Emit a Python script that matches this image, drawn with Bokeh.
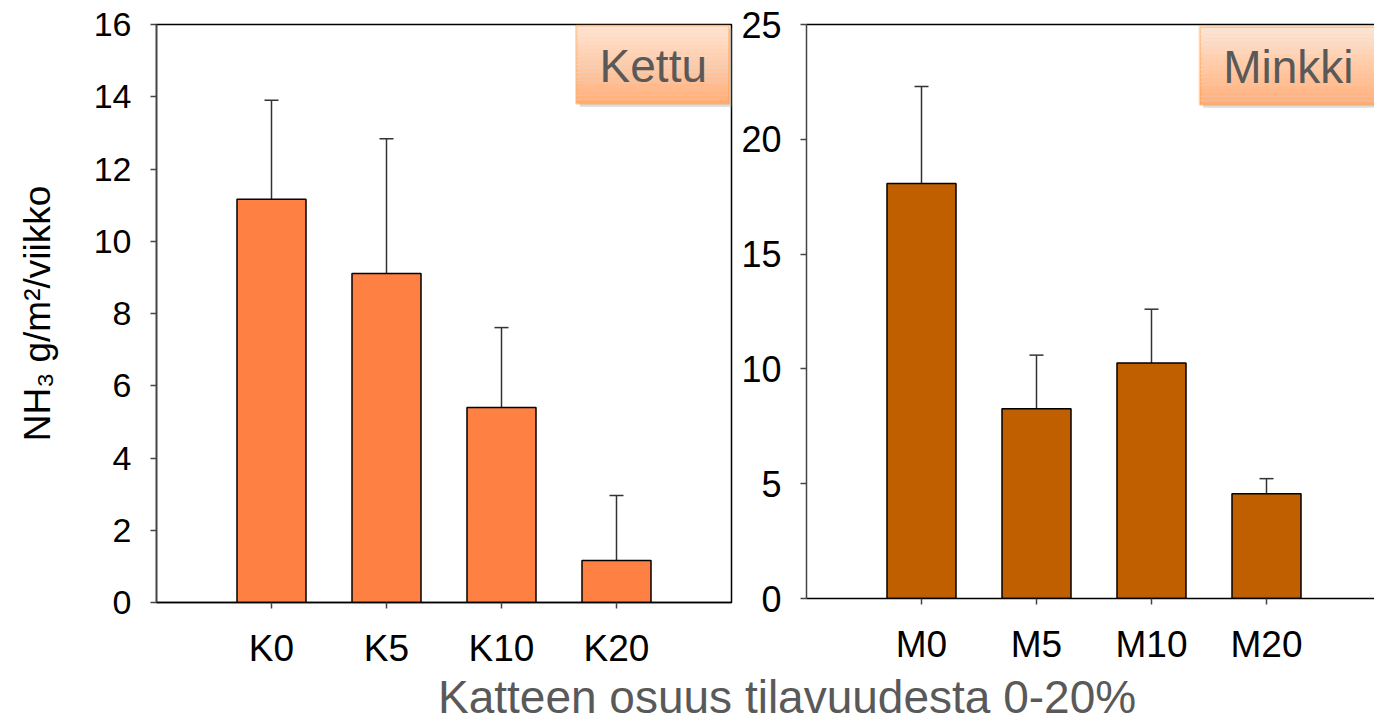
from bokeh.plotting import figure
from bokeh.models import (ColumnDataSource, Whisker, TeeHead, FixedTicker, Range1d,
                          LinearAxis, BoxAnnotation, Label, Div)
from bokeh.layouts import row, column
from bokeh.embed import file_html
from bokeh.resources import INLINE

# ---- data ----
kettu_cats = ["K0", "K5", "K10", "K20"]
kettu_vals = [11.16, 9.11, 5.40, 1.16]
kettu_err = [2.74, 3.73, 2.21, 1.80]

minkki_cats = ["M0", "M5", "M10", "M20"]
minkki_vals = [18.08, 8.26, 10.26, 4.56]
minkki_err = [4.22, 2.34, 2.34, 0.66]

kettu_yticks = [0, 2, 4, 6, 8, 10, 12, 14, 16]
minkki_yticks = [0, 5, 10, 15, 20, 25]

y_label = "NH\u2083 g/m\u00b2/viikko"
x_title = "Katteen osuus tilavuudesta 0-20%"
kettu_name = "Kettu"
minkki_name = "Minkki"

FONT = "Liberation Sans"


def badge(p, x0, x1, y0, y1, sx, sy, text, tx, ty):
    # shadow
    p.add_layout(BoxAnnotation(left=x0 + sx, right=x1 + sx, bottom=y0 - sy, top=y1 - sy,
                               fill_color="#b0b0b0", fill_alpha=0.45, line_color=None, level="annotation"))
    n = 20
    c0 = (255, 228, 210)
    c1 = (255, 176, 124)
    for i in range(n):
        t = i / (n - 1)
        col = "#%02x%02x%02x" % tuple(int(round(a + (b - a) * t)) for a, b in zip(c0, c1))
        top = y1 - (y1 - y0) * i / n
        bot = y1 - (y1 - y0) * (i + 1) / n
        p.add_layout(BoxAnnotation(left=x0, right=x1, bottom=bot, top=top,
                                   fill_color=col, fill_alpha=1.0, line_color=None, level="annotation"))
    p.add_layout(BoxAnnotation(left=x0, right=x1, bottom=y0, top=y1, fill_color=None, fill_alpha=0,
                               line_color="#FF8A1F", line_width=2.5, level="annotation"))
    p.add_layout(Label(x=tx, y=ty, text=text, text_font=FONT, text_font_size="46px",
                       text_color="#595959", text_align="center", text_baseline="middle",
                       level="annotation"))


def make_panel(cats, vals, errs, yticks, color, width, height, bl, br, bt, bb, xend, yfs):
    pos = [i + 1 for i in range(len(cats))]
    src = ColumnDataSource(dict(x=pos, v=vals, up=[v + e for v, e in zip(vals, errs)]))
    p = figure(width=width, height=height, x_range=Range1d(0, xend),
               y_range=Range1d(yticks[0], yticks[-1]),
               output_backend="svg", toolbar_location=None,
               min_border_left=bl, min_border_right=br, min_border_top=bt, min_border_bottom=bb)
    p.background_fill_color = "white"
    p.border_fill_color = "white"
    p.xgrid.grid_line_color = None
    p.ygrid.grid_line_color = None

    p.vbar(x="x", top="v", width=0.6, bottom=0, source=src, fill_color=color,
           line_color="black", line_width=1.5)
    w = Whisker(base="x", lower="v", upper="up", source=src, dimension="height",
                line_color="#333333", line_width=1.5,
                upper_head=TeeHead(size=14, line_color="#333333", line_width=1.5),
                lower_head=None)
    p.add_layout(w)

    p.xaxis.ticker = FixedTicker(ticks=pos)
    p.xaxis.major_label_overrides = {k: c for k, c in zip(pos, cats)}
    p.xaxis.minor_tick_line_color = None
    p.xaxis.major_tick_in = 0
    p.xaxis.major_tick_out = 6
    p.xaxis.major_label_standoff = 19
    p.xaxis.major_label_text_font = FONT
    p.xaxis.major_label_text_font_size = "37px"
    p.xaxis.major_label_text_color = "black"
    p.xaxis.axis_line_color = "black"
    p.xaxis.axis_line_width = 1.5
    p.xaxis.major_tick_line_color = "#444444"
    p.xaxis.major_tick_line_width = 1.5

    p.yaxis.ticker = FixedTicker(ticks=yticks)
    p.yaxis.minor_tick_line_color = None
    p.yaxis.major_tick_in = 0
    p.yaxis.major_tick_out = 6
    p.yaxis.major_label_standoff = 19
    p.yaxis.major_label_text_font = FONT
    p.yaxis.major_label_text_font_size = yfs
    p.yaxis.major_label_text_color = "black"
    p.yaxis.axis_line_color = "#444444"
    p.yaxis.axis_line_width = 1.5
    p.yaxis.major_tick_line_color = "#444444"
    p.yaxis.major_tick_line_width = 1.5
    return p


# left panel: frame x 156..731, y 24..602
p1 = make_panel(kettu_cats, kettu_vals, kettu_err, kettu_yticks, "#FE8042",
                width=735, height=672, bl=156, br=4, bt=24, bb=70, xend=5, yfs="34px")
p1.outline_line_color = "black"
p1.outline_line_width = 1.5
p1.yaxis.axis_label = y_label
p1.yaxis.axis_label_text_font = FONT
p1.yaxis.axis_label_text_font_size = "37px"
p1.yaxis.axis_label_text_font_style = "normal"
p1.yaxis.axis_label_text_color = "black"
p1.yaxis.axis_label_standoff = 33
badge(p1, 3.65, 4.98, 13.81, 15.97, 0.03, 0.09, kettu_name, 4.32, 14.85)

# right panel: frame x 806..1374, y 23..598
p2 = make_panel(minkki_cats, minkki_vals, minkki_err, minkki_yticks, "#C05F00",
                width=639, height=668, bl=71, br=0, bt=23, bb=70, xend=568 / 115, yfs="36px")
p2.outline_line_color = None
top_axis = LinearAxis(ticker=FixedTicker(ticks=[]), major_tick_out=0, major_tick_in=0,
                      minor_tick_out=0, minor_tick_in=0, major_label_text_font_size="0px",
                      axis_line_color="black", axis_line_width=1.5)
p2.add_layout(top_axis, "above")
badge(p2, 3.42, 5.2, 21.51, 24.9, 0.03, 0.14, minkki_name, 4.19, 23.15)

title_div = Div(
    text='<div style="padding-left:433px; white-space:nowrap; '
         'font-family:\'Liberation Sans\'; font-size:46px; line-height:0.9; color:#595959;">'
         + x_title + '</div>',
    width=1374, height=48, styles={"overflow": "visible"})

layout = column(row(p1, p2), title_div)

with open("out.html", "w") as f:
    f.write(file_html(layout, INLINE))
